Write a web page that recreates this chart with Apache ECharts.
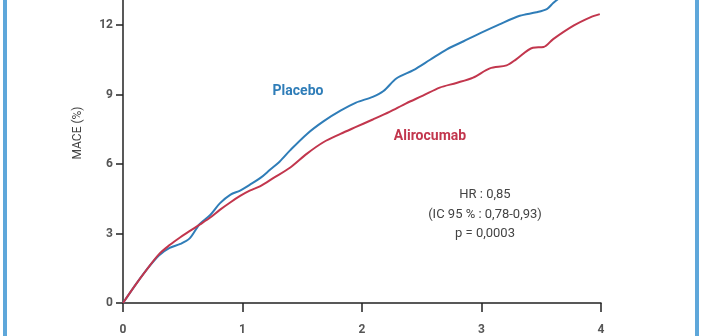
<!DOCTYPE html>
<html>
<head>
<meta charset="utf-8">
<script src="https://cdn.jsdelivr.net/npm/echarts@6/dist/echarts.min.js"></script>
<style>
html,body{margin:0;padding:0;background:#fff;}
#c{width:702px;height:336px;}
</style>
</head>
<body>
<div id="c"></div>
<script>
// Years of follow-up and cumulative MACE (%)
const placeboT = [0,0.1,0.2,0.3,0.39,0.48,0.56,0.64,0.73,0.81,0.9,0.98,1.06,1.15,1.23,1.31,1.4,1.54,1.68,1.82,1.95,2.09,2.18,2.29,2.43,2.57,2.71,2.85,2.99,3.15,3.32,3.46,3.55,3.6,3.66];
const placeboV = [0,0.75,1.45,2.05,2.38,2.55,2.8,3.4,3.8,4.3,4.68,4.85,5.1,5.4,5.75,6.1,6.6,7.3,7.85,8.3,8.65,8.9,9.15,9.7,10.05,10.5,10.95,11.3,11.65,12.03,12.4,12.55,12.7,12.95,13.2];
const aliroT = [0,0.1,0.2,0.3,0.39,0.48,0.56,0.64,0.73,0.81,0.9,0.98,1.06,1.15,1.26,1.4,1.54,1.68,1.82,1.95,2.09,2.23,2.37,2.51,2.65,2.79,2.93,3.07,3.21,3.29,3.43,3.52,3.6,3.77,3.91,3.99];
const aliroV = [0,0.75,1.45,2.1,2.5,2.84,3.11,3.38,3.69,4.02,4.35,4.62,4.85,5.05,5.4,5.85,6.45,6.95,7.3,7.6,7.92,8.25,8.62,8.95,9.3,9.5,9.73,10.13,10.26,10.52,11.02,11.05,11.39,11.97,12.33,12.47];
const yTicks = [0,3,6,9,12];
const xTicks = [0,1,2,3,4];
const seriesNames = ['Placebo','Alirocumab'];
const yTitle = 'MACE (%)';
const statLines = ['HR : 0,85','(IC 95 % : 0,78-0,93)','p = 0,0003'];

const zip = (a,b) => a.map((t,i)=>[t,b[i]]);
const chart = echarts.init(document.getElementById('c'), null, {renderer:'canvas'});
const font = 'Roboto, "Open Sans", sans-serif';
chart.setOption({
  animation:false,
  backgroundColor:'#fff',
  grid:{left:123,right:101,top:0,bottom:33,containLabel:false},
  xAxis:{type:'value',min:0,max:4,interval:1,
    axisLine:{show:true,onZero:false,lineStyle:{color:'#222',width:1.5}},
    axisTick:{show:true,inside:false,length:9,lineStyle:{color:'#222',width:1.5},customValues:xTicks},
    axisLabel:{customValues:xTicks,margin:21,color:'#555',fontSize:12,fontWeight:'bold',fontFamily:font},
    splitLine:{show:false}},
  yAxis:{type:'value',min:0,max:13.08,
    axisLine:{show:true,lineStyle:{color:'#222',width:1.5}},
    axisTick:{show:true,length:7,lineStyle:{color:'#222',width:1.5},customValues:yTicks},
    axisLabel:{customValues:yTicks,margin:10,color:'#555',fontSize:12,fontWeight:'bold',fontFamily:font},
    splitLine:{show:false}},
  series:[
    {name:seriesNames[0],type:'line',data:zip(placeboT,placeboV),smooth:0.3,showSymbol:false,clip:true,
     lineStyle:{color:'#2f7db8',width:2},z:3},
    {name:seriesNames[1],type:'line',data:zip(aliroT,aliroV),smooth:0.3,showSymbol:false,clip:true,
     lineStyle:{color:'#c2364d',width:2},z:4}
  ],
  graphic:[
    {type:'rect',left:3,top:0,shape:{width:4,height:336},style:{fill:'#5ea7da'}},
    {type:'rect',left:695,top:0,shape:{width:4,height:336},style:{fill:'#5ea7da'}},
    {type:'text',x:78,y:133,rotation:Math.PI/2,style:{text:yTitle,fill:'#444',font:'12px '+font,textAlign:'center',textVerticalAlign:'middle'}},
    {type:'text',x:298,y:91,style:{text:seriesNames[0],fill:'#2f7db8',font:'bold 14px '+font,textAlign:'center',textVerticalAlign:'middle'}},
    {type:'text',x:430,y:136,style:{text:seriesNames[1],fill:'#c2364d',font:'bold 14px '+font,textAlign:'center',textVerticalAlign:'middle'}},
    {type:'text',x:485,y:195,style:{text:statLines[0],fill:'#444',font:'13px '+font,textAlign:'center',textVerticalAlign:'middle'}},
    {type:'text',x:485,y:215,style:{text:statLines[1],fill:'#444',font:'13px '+font,textAlign:'center',textVerticalAlign:'middle'}},
    {type:'text',x:485,y:234,style:{text:statLines[2],fill:'#444',font:'13px '+font,textAlign:'center',textVerticalAlign:'middle'}}
  ]
});
</script>
</body>
</html>
